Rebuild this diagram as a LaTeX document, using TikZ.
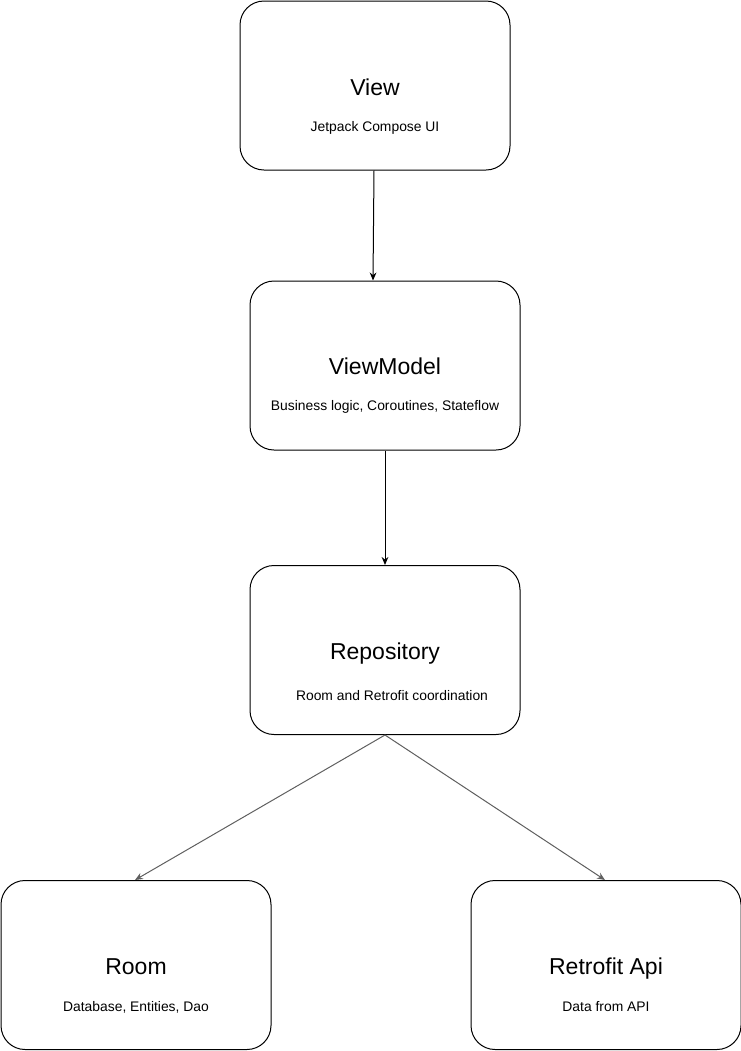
\documentclass[tikz,border=0pt]{standalone}
\usepackage{fontspec}
\setmainfont{Liberation Sans}
\usetikzlibrary{arrows.meta}
\definecolor{edgegray}{HTML}{5F5F5F}
\tikzset{
  box/.style={draw=black, line width=0.75pt, rounded corners=18pt, fill=white,
    minimum width=202.5pt, minimum height=126.75pt, inner sep=0pt},
  ttl/.style={anchor=base, inner sep=0pt, font=\fontsize{17.25}{20}\selectfont},
  sub/.style={anchor=base, inner sep=0pt, font=\fontsize{10.4}{12}\selectfont},
  conn/.style={line width=0.75pt, -{Stealth[length=6pt,width=5pt]}},
  gconn/.style={conn, draw=edgegray}
}
\begin{document}
\begin{tikzpicture}[x=0.75pt,y=-0.75pt]
\useasboundingbox (0,0) rectangle (741,1051);
% boxes
\node[box] (view) at (375,85.5) {};
\node[box] (vm) at (385,365.5) {};
\node[box] (repo) at (385,650) {};
\node[box] (room) at (136,965) {};
\node[box] (retro) at (606,965) {};
% texts
\node[ttl] (viewT) at (375,95) {View};
\node[sub] (viewS) at (375,131.5) {Jetpack Compose UI};
\node[ttl] (vmT) at (385,374) {ViewModel};
\node[sub] (vmS) at (385,410) {Business logic, Coroutines, Stateflow};
\node[ttl] (repoT) at (385,659) {Repository};
\node[sub] (repoS) at (392,700.5) {Room and Retrofit coordination};
\node[ttl] (roomT) at (136,974) {Room};
\node[sub] (roomS) at (136,1011.5) {Database, Entities, Dao};
\node[ttl] (retroT) at (606,974) {Retrofit Api};
\node[sub] (retroS) at (606,1011.5) {Data from API};
% connectors
\draw[conn] ([xshift=-0.75pt]view.south) -- ([xshift=-9pt]vm.north);
\draw[conn] (vm.south) -- (repo.north);
\draw[gconn] (repo.south) -- ([xshift=-0.75pt]room.north);
\draw[gconn] (repo.south) -- ([xshift=-0.75pt]retro.north);
\end{tikzpicture}
\end{document}
